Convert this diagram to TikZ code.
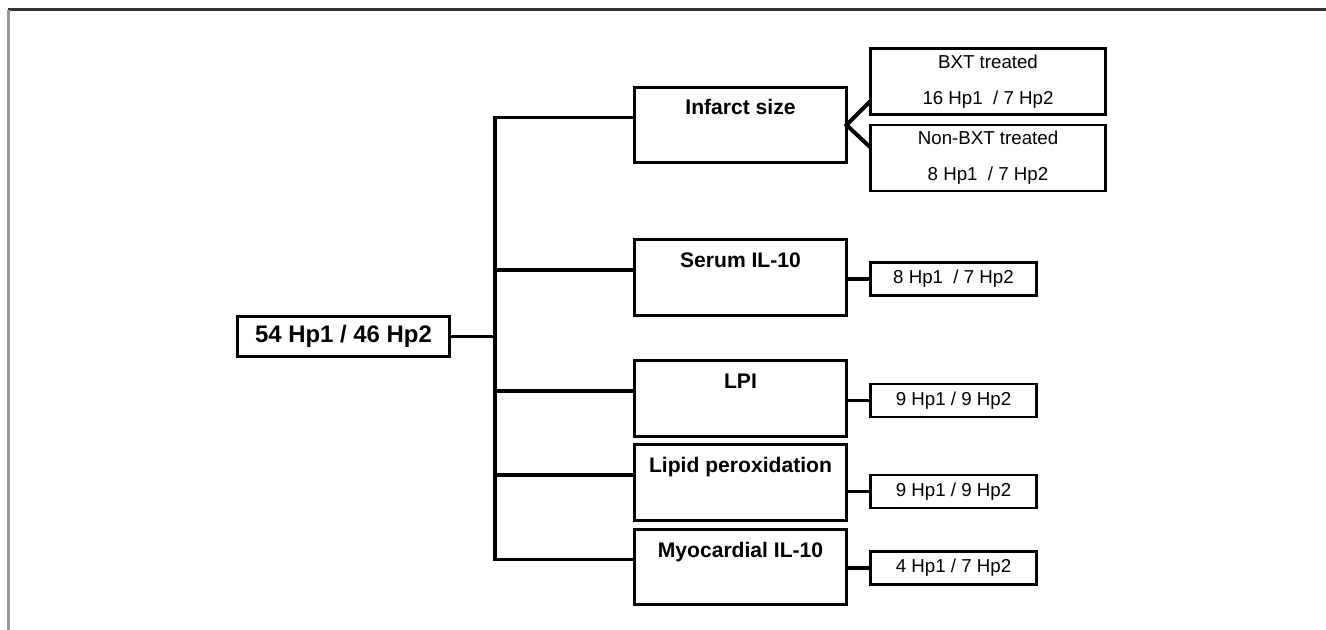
\documentclass[tikz,border=0pt]{standalone}
\usepackage{fontspec}
\setmainfont{Liberation Sans}
\usepackage{tikz}
\usetikzlibrary{positioning,calc}

\begin{document}
\begin{tikzpicture}[x=0.025cm, y=-0.025cm,
    total/.style={rectangle, draw=black, line width=2.1pt, minimum width=5.3cm, minimum height=1cm, inner sep=0pt, outer sep=0pt, font=\fontsize{17}{20}\selectfont\bfseries},
    measure/.style={rectangle, draw=black, line width=2.1pt, minimum width=5.3cm, text height=0.69cm, text depth=1.19cm, inner ysep=0pt, outer sep=0pt, align=center, font=\fontsize{15}{18}\selectfont\bfseries},
    group/.style={rectangle, draw=black, line width=2.1pt, minimum width=5.875cm, minimum height=1.65cm, inner sep=0pt, outer sep=0pt, align=center, font=\fontsize{13.3}{25.6}\selectfont},
    result/.style={rectangle, draw=black, line width=2.1pt, minimum width=4.15cm, minimum height=0.825cm, inner sep=0pt, outer sep=0pt, font=\fontsize{13.3}{16}\selectfont},
    link/.style={draw=black, line width=2.8pt}]

\useasboundingbox (0,0) rectangle (1326,630);

% Frame (cut edge)
\draw[black!80, line width=2pt] (8,9.5) -- (1326,9.5);
\draw[black!40, line width=1.6pt] (8.5,10) -- (8.5,630);

% All animals
\node[total] (total) at (343.5, 336.5) {54 Hp1 / 46 Hp2};

% Measurements
\node[measure] (infarct) at (740.5, 125) {Infarct size};
\node[measure] (serum) at (740.5, 277.5) {Serum IL-10};
\node[measure] (lpi) at (740.5, 398.5) {LPI};
\node[measure] (lipid) at (740.5, 482.5) {Lipid peroxidation};
\node[measure] (myo) at (740.5, 567) {Myocardial IL-10};

% Groups per measurement
\node[group] (bxt) at (988, 81.5) {BXT treated\\16 Hp1\ \ / 7 Hp2};
\node[group] (nonbxt) at (988, 158) {Non-BXT treated\\8 Hp1\ \ / 7 Hp2};
\node[result] (serum_n) at (953.5, 279) {8 Hp1\ \ / 7 Hp2};
\node[result] (lpi_n) at (953.5, 400.5) {9 Hp1 / 9 Hp2};
\node[result] (lipid_n) at (953.5, 491.5) {9 Hp1 / 9 Hp2};
\node[result] (myo_n) at (953.5, 568) {4 Hp1 / 7 Hp2};

% Tree
\coordinate (trunk) at (495, 0);
\foreach \m in {infarct, serum, lpi, lipid, myo}
    \coordinate (\m_in) at ($(\m.north west)!0.4!(\m.south west)$);
\draw[link] (total.east) -- (total.east -| trunk);
\draw[link] (infarct_in) -| (trunk |- myo_in) -- (myo_in);
\foreach \m in {serum, lpi, lipid}
    \draw[link] (trunk |- \m_in) -- (\m_in);

% Split of infarct size
\draw[link] ($(bxt.south west)+(0,-13.5)$) -- (infarct.east) -- ($(nonbxt.north west)+(0,22.5)$);

% Counts
\foreach \m in {serum, lpi, lipid, myo}
    \draw[link] (\m.east |- \m_n.west) -- (\m_n.west);

\end{tikzpicture}
\end{document}
